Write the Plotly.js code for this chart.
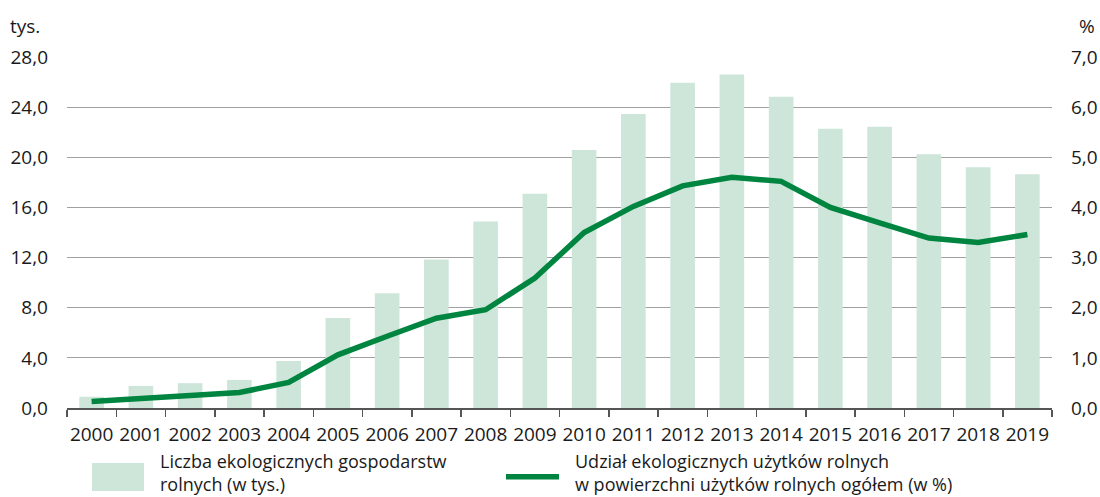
<!DOCTYPE html>
<html>
<head>
<meta charset="utf-8">
<script src="https://cdn.plot.ly/plotly-3.0.1.min.js"></script>
<style>html,body{margin:0;padding:0;background:#fff;}#chart{width:1100px;height:497px;}</style>
</head>
<body>
<div id="chart"></div>
<script>
const years = ['2000','2001','2002','2003','2004','2005','2006','2007','2008','2009','2010','2011','2012','2013','2014','2015','2016','2017','2018','2019'];
const farms = [0.9, 1.76, 1.98, 2.24, 3.75, 7.18, 9.15, 11.85, 14.87, 17.09, 20.58, 23.45, 25.94, 26.6, 24.83, 22.28, 22.43, 20.25, 19.2, 18.64];
const share = [0.13, 0.19, 0.26, 0.31, 0.51, 1.06, 1.43, 1.79, 1.96, 2.59, 3.5, 4.02, 4.43, 4.6, 4.52, 4.0, 3.69, 3.39, 3.3, 3.46];
const leftTicks = [0, 4, 8, 12, 16, 20, 24, 28];
const rightTicks = [0, 1, 2, 3, 4, 5, 6, 7];
const barName = 'Liczba ekologicznych gospodarstw rolnych (w tys.)';
const lineName = 'Udział ekologicznych użytków rolnych w powierzchni użytków rolnych ogółem (w %)';
const legendBarLines = ['Liczba ekologicznych gospodarstw', 'rolnych (w tys.)'];
const legendLineLines = ['Udział ekologicznych użytków rolnych', 'w powierzchni użytków rolnych ogółem (w %)'];

const barColor = 'rgb(205,230,217)';
const lineColor = 'rgb(0,133,64)';
const font = 'Open Sans, sans-serif';
const txt = '#1a1a1a';

const traces = [
  {type: 'bar', x: years, y: farms, name: barName, marker: {color: barColor}, yaxis: 'y', hoverinfo: 'x+y'},
  {type: 'scatter', mode: 'lines', x: years, y: share, name: lineName, yaxis: 'y2',
   line: {color: lineColor, width: 5.5}, hoverinfo: 'x+y'}
];

const H = 351; // plot height px
function py(px) { return (408 - px) / H; }
function pxX(px) { return (px - 67) / 985; }

const layout = {
  width: 1100, height: 497,
  margin: {l: 67, r: 48, t: 57, b: 89},
  paper_bgcolor: '#fff', plot_bgcolor: '#fff',
  separators: ', ',
  showlegend: false,
  bargap: 0.5,
  font: {family: font, size: 19, color: txt},
  xaxis: {
    type: 'category', showgrid: false, zeroline: false,
    showline: true, linecolor: '#555', linewidth: 2,
    ticks: 'outside', tickson: 'boundaries', ticklen: 7, tickcolor: '#555', tickwidth: 1.5,
    tickangle: 0, ticklabelstandoff: 8,
    tickfont: {family: font, size: 19, color: txt}
  },
  yaxis: {
    range: [0, 28], tickvals: leftTicks, tickformat: '.1f',
    showgrid: true, gridcolor: '#a0a0a0', gridwidth: 1, zeroline: false,
    ticks: '', ticklabelstandoff: 18,
    tickfont: {family: font, size: 19, color: txt}
  },
  yaxis2: {
    range: [0, 7], tickvals: rightTicks, tickformat: '.1f', overlaying: 'y', side: 'right',
    showgrid: false, zeroline: false, ticks: '', ticklabelstandoff: 18,
    tickfont: {family: font, size: 19, color: txt}
  },
  shapes: [
    {type: 'rect', xref: 'paper', yref: 'paper', x0: pxX(92), x1: pxX(144), y0: py(491), y1: py(463),
     fillcolor: barColor, line: {width: 0}},
    {type: 'line', xref: 'paper', yref: 'paper', x0: pxX(506), x1: pxX(559), y0: py(476.7), y1: py(476.7),
     line: {color: lineColor, width: 5.5}}
  ],
  annotations: [
    {text: 'tys.', xref: 'paper', yref: 'paper', x: pxX(8), y: py(26), xanchor: 'left', yanchor: 'middle', showarrow: false, font: {family: font, size: 19, color: txt}},
    {text: '%', xref: 'paper', yref: 'paper', x: pxX(1097), y: py(26), xanchor: 'right', yanchor: 'middle', showarrow: false, font: {family: font, size: 19, color: txt}},
    {text: legendBarLines.join('<br>'), xref: 'paper', yref: 'paper', x: pxX(158), y: py(472), xanchor: 'left', yanchor: 'middle', align: 'left', showarrow: false, font: {family: font, size: 18, color: txt}},
    {text: legendLineLines.join('<br>'), xref: 'paper', yref: 'paper', x: pxX(573), y: py(472), xanchor: 'left', yanchor: 'middle', align: 'left', showarrow: false, font: {family: font, size: 18, color: txt}}
  ]
};

Plotly.newPlot('chart', traces, layout, {displayModeBar: false, staticPlot: true});
</script>
</body>
</html>
